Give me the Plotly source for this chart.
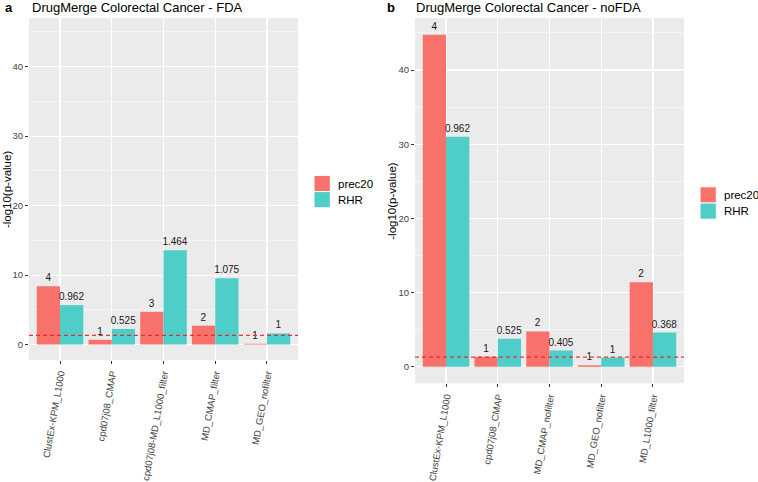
import plotly.graph_objects as go

# ---------------- data ----------------
series_names = ["prec20", "RHR"]
series_colors = ["#F8716A", "#4FCDC9"]

cats_a = ["ClustEx-KPM_L1000", "cpd07j08_CMAP", "cpd07j08-MD_L1000_filter",
          "MD_CMAP_filter", "MD_GEO_nofilter"]
prec20_a = [8.4, 0.67, 4.7, 2.71, 0.1]
rhr_a = [5.67, 2.24, 13.57, 9.53, 1.6]
prec20_a_lbl = ["4", "1", "3", "2", "1"]
rhr_a_lbl = ["0.962", "0.525", "1.464", "1.075", "1"]

cats_b = ["ClustEx-KPM_L1000", "cpd07j08_CMAP", "MD_CMAP_nofilter",
          "MD_GEO_nofilter", "MD_L1000_filter"]
prec20_b = [44.75, 1.33, 4.76, 0.2, 11.38]
rhr_b = [31.0, 3.78, 2.18, 1.24, 4.6]
prec20_b_lbl = ["4", "1", "2", "1", "2"]
rhr_b_lbl = ["0.962", "0.525", "0.405", "1", "0.368"]

threshold = 1.30103  # -log10(0.05)
y_ticks = [0, 10, 20, 30, 40]

title_a = "DrugMerge Colorectal Cancer - FDA"
title_b = "DrugMerge Colorectal Cancer - noFDA"
y_title = "-log10(p-value)"

# ---------------- layout constants ----------------
W, H = 758, 482
FONT = "Liberation Sans, Arial, Helvetica, sans-serif"


def px_x(p):
    return p / W


def px_y(p):
    return 1 - p / H


dom_a_x = [px_x(29), px_x(298)]
dom_a_y = [px_y(362.3), px_y(18.3)]
dom_b_x = [px_x(415), px_x(684)]
dom_b_y = [px_y(385.7), px_y(18.3)]

ymax = max(prec20_a + rhr_a + prec20_b + rhr_b)
y_range = [-0.05 * ymax, 1.05 * ymax]

fig = go.Figure()

panels = [
    ("x", "y", cats_a, [prec20_a, rhr_a], [prec20_a_lbl, rhr_a_lbl]),
    ("x2", "y2", cats_b, [prec20_b, rhr_b], [prec20_b_lbl, rhr_b_lbl]),
]
for xa, ya, cats, vals, lbls in panels:
    for name, color, v, l in zip(series_names, series_colors, vals, lbls):
        fig.add_trace(go.Bar(
            x=cats, y=v, name=name, text=l, textposition="outside",
            textfont=dict(family=FONT, size=10, color="#1a1a1a"),
            marker=dict(color=color, line=dict(width=0)),
            cliponaxis=False, constraintext="none",
            xaxis=xa, yaxis=ya, showlegend=False,
        ))

axis_common_x = dict(
    type="category", range=[-0.6, 4.6], showgrid=True, gridcolor="white",
    gridwidth=1.1, zeroline=False, ticks="outside", ticklen=3,
    tickcolor="#333333", tickwidth=1, tickangle=-80,
    tickfont=dict(family=FONT, size=9.5, color="#444444"),
    showline=False, fixedrange=True,
)
axis_common_y = dict(
    range=y_range, tickvals=y_ticks, showgrid=True, gridcolor="white",
    gridwidth=1.1, zeroline=False, ticks="outside", ticklen=3,
    tickcolor="#333333", tickwidth=1,
    tickfont=dict(family=FONT, size=9.5, color="#444444"),
    minor=dict(dtick=5, tick0=5, showgrid=True, gridcolor="white",
               gridwidth=0.5, ticks=""),
    showline=False, fixedrange=True,
)

fig.update_layout(
    width=W, height=H, margin=dict(l=0, r=0, t=0, b=0),
    paper_bgcolor="white", plot_bgcolor="#EBEBEB",
    barmode="group", bargap=0.1, bargroupgap=0,
    font=dict(family=FONT),
    xaxis=dict(axis_common_x, domain=dom_a_x, anchor="y"),
    yaxis=dict(axis_common_y, domain=dom_a_y, anchor="x"),
    xaxis2=dict(axis_common_x, domain=dom_b_x, anchor="y2"),
    yaxis2=dict(axis_common_y, domain=dom_b_y, anchor="x2"),
    showlegend=False,
)

# threshold dashed lines
for xr, yr in [("x domain", "y"), ("x2 domain", "y2")]:
    fig.add_shape(type="line", xref=xr, yref=yr, x0=0, x1=1,
                  y0=threshold, y1=threshold,
                  line=dict(color="rgba(220,40,35,0.9)", width=1.2, dash="4px,3px"),
                  layer="above")

annots = []
# panel letters and titles
for letter, lx, tx, title in [("a", 3, 30, title_a), ("b", 385, 414, title_b)]:
    annots.append(dict(text="<b>%s</b>" % letter, x=px_x(lx), y=px_y(8),
                       xref="paper", yref="paper", xanchor="left", yanchor="middle",
                       showarrow=False, font=dict(family=FONT, size=13, color="black")))
    annots.append(dict(text=title, x=px_x(tx), y=px_y(8),
                       xref="paper", yref="paper", xanchor="left", yanchor="middle",
                       showarrow=False, font=dict(family=FONT, size=13, color="black")))

# y-axis titles
for cx, dom in [(7, dom_a_y), (392, dom_b_y)]:
    annots.append(dict(text=y_title, x=px_x(cx), y=(dom[0] + dom[1]) / 2,
                       xref="paper", yref="paper", xanchor="center", yanchor="middle",
                       textangle=-90, showarrow=False,
                       font=dict(family=FONT, size=11.5, color="black")))

# legends (keys + labels)
shapes = []
KEY = 16.3
for kx, ky in [(314, 176.5), (700, 188)]:
    for i, (name, color) in enumerate(zip(series_names, series_colors)):
        y0 = ky + i * KEY
        shapes.append(dict(type="rect", xref="paper", yref="paper",
                           x0=px_x(kx), x1=px_x(kx + KEY),
                           y0=px_y(y0 + KEY), y1=px_y(y0),
                           fillcolor=color, line=dict(color="white", width=1),
                           layer="above"))
        annots.append(dict(text=name, x=px_x(kx + KEY + 6), y=px_y(y0 + KEY / 2),
                           xref="paper", yref="paper", xanchor="left",
                           yanchor="middle", showarrow=False,
                           font=dict(family=FONT, size=11.5, color="black")))

fig.update_layout(annotations=annots)
for s in shapes:
    fig.add_shape(**s)

fig.write_html("out.html",
               config={"displayModeBar": False, "staticPlot": True},
               post_script="document.body.style.margin='0';"
                           "document.body.style.overflow='hidden';")
